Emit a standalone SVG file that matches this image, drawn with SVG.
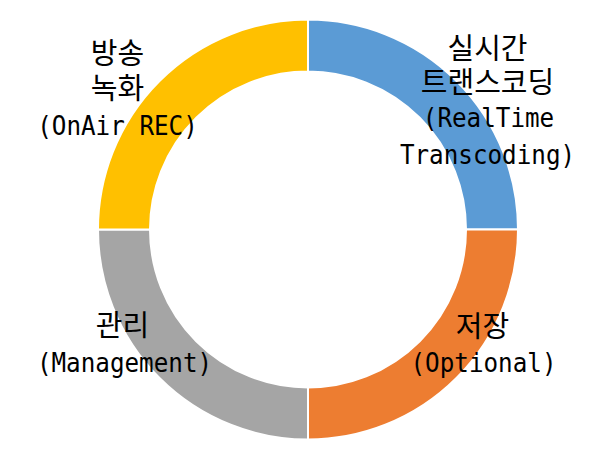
<svg xmlns="http://www.w3.org/2000/svg" width="599" height="454" viewBox="0 0 599 454">
<style>
.seg{stroke:#ffffff;stroke-width:2;stroke-linejoin:miter}
.ko{font-family:"Noto Sans CJK KR","Noto Sans",sans-serif;font-size:29px;fill:#000;text-anchor:middle}
.en{font-family:"DejaVu Sans Mono","Liberation Mono",monospace;font-size:26px;fill:#000;text-anchor:middle}
</style>
<rect x="0" y="0" width="599" height="454" fill="#ffffff"/>
<g id="ring">
<g id="seg-realtime"><path class="seg" fill="#5B9BD5" d="M308,19.5 A210,210 0 0 1 518,229.5 L466,229.5 A158,158 0 0 0 308,71.5 Z"/></g>
<g id="seg-storage"><path class="seg" fill="#ED7D31" d="M518,229.5 A210,210 0 0 1 308,439.5 L308,387.5 A158,158 0 0 0 466,229.5 Z"/></g>
<g id="seg-management"><path class="seg" fill="#A5A5A5" d="M308,439.5 A210,210 0 0 1 98,229.5 L150,229.5 A158,158 0 0 0 308,387.5 Z"/></g>
<g id="seg-onair"><path class="seg" fill="#FFC000" d="M98,229.5 A210,210 0 0 1 308,19.5 L308,71.5 A158,158 0 0 0 150,229.5 Z"/></g>
</g>
<g id="label-onair">
<text class="ko" x="117.5" y="64">방송</text>
<text class="ko" x="117.5" y="99">녹화</text>
<text class="en" x="117.5" y="135" textLength="160.6" lengthAdjust="spacingAndGlyphs">(OnAir REC)</text>
</g>
<g id="label-realtime">
<text class="ko" x="487.5" y="59">실시간</text>
<text class="ko" x="487.5" y="93">트랜스코딩</text>
<text class="en" x="488.5" y="127" textLength="131.4" lengthAdjust="spacingAndGlyphs">(RealTime</text>
<text class="en" x="487.5" y="164" textLength="175.2" lengthAdjust="spacingAndGlyphs">Transcoding)</text>
</g>
<g id="label-management">
<text class="ko" x="122.5" y="336">관리</text>
<text class="en" x="124.5" y="372" textLength="175.2" lengthAdjust="spacingAndGlyphs">(Management)</text>
</g>
<g id="label-storage">
<text class="ko" x="482.5" y="337">저장</text>
<text class="en" x="483.5" y="372" textLength="146" lengthAdjust="spacingAndGlyphs">(Optional)</text>
</g>
</svg>
